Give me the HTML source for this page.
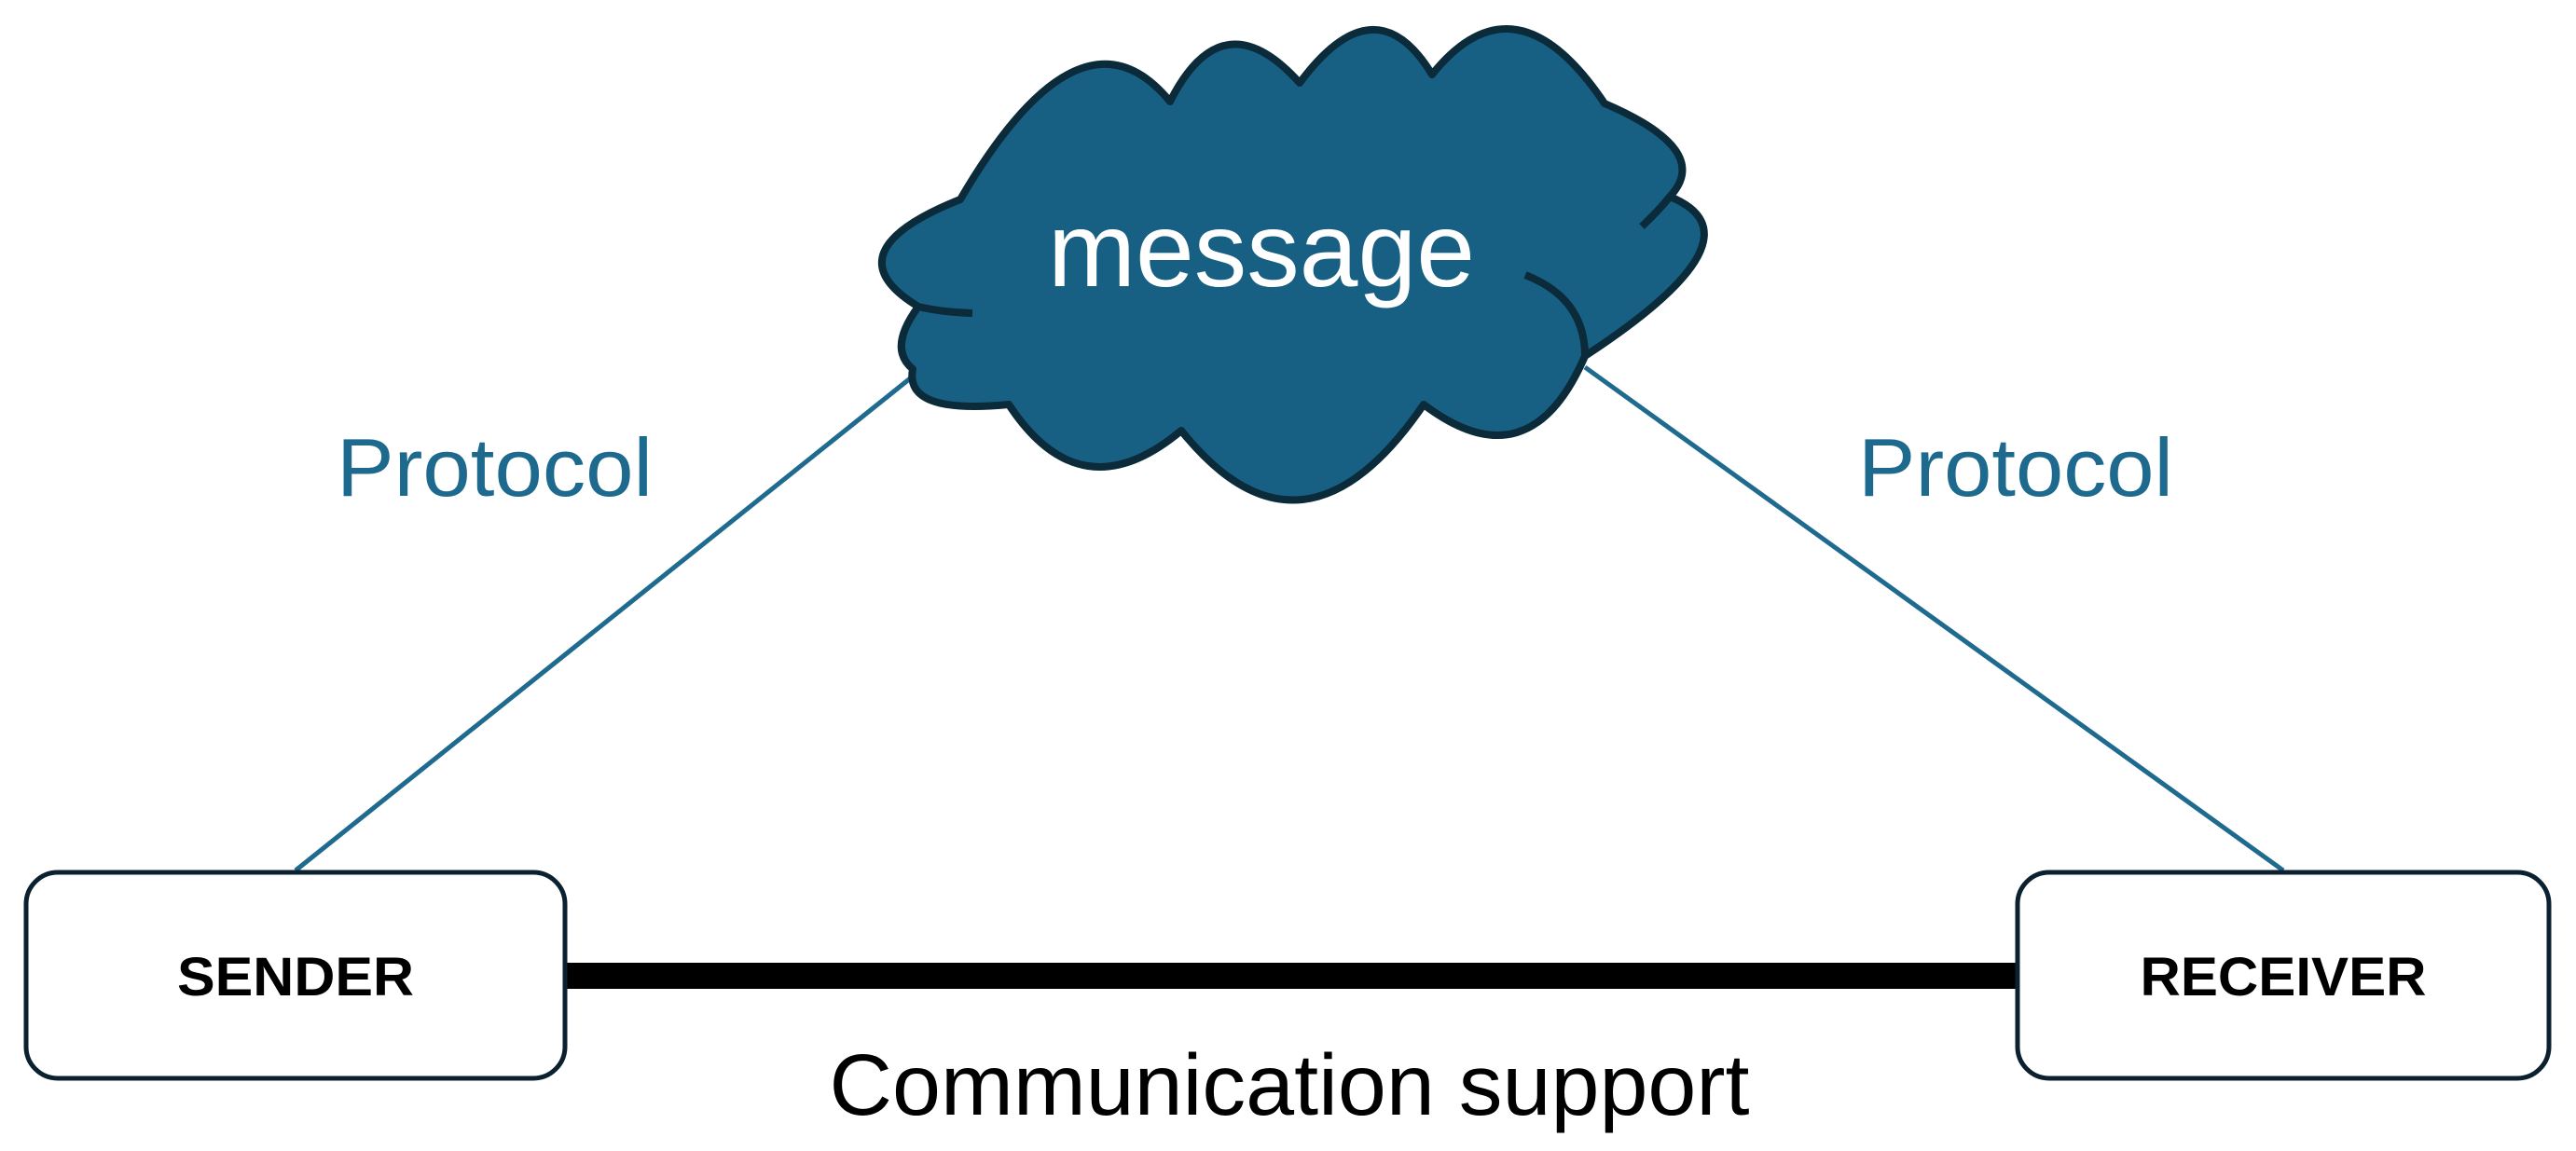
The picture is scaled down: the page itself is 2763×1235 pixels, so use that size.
<!DOCTYPE html>
<html><head><meta charset="utf-8"><style>
html,body{margin:0;padding:0;background:#fff;}
svg{display:block;}
text{font-family:"Liberation Sans",Arial,sans-serif;}
</style></head><body>
<svg width="2763" height="1235" viewBox="0 0 2763 1235" xmlns="http://www.w3.org/2000/svg">
<line x1="980" y1="403" x2="317" y2="934" stroke="#1f6a8f" stroke-width="5"/>
<line x1="1700" y1="394" x2="2449" y2="934" stroke="#1f6a8f" stroke-width="5"/>
<path d="M1030,214 Q1159.5,-7.5 1255,109 Q1311.5,-3 1394,89 Q1475,-20.5 1536,80 Q1625.5,-31.5 1721,111 Q1838,161 1791,211 Q1896.5,253.5 1700,382 Q1640.5,520 1527,434 Q1397,624 1267,462 Q1159.5,552 1082,434 Q969.5,445 979,396 Q952,373.5 985,329 Q888.5,270.5 1030,214 Z" fill="#186083" stroke="#0b2a3a" stroke-width="8" stroke-linejoin="round"/>
<path d="M1636,295 Q1700,320 1700,382" fill="none" stroke="#0b2a3a" stroke-width="8"/>
<path d="M1761,243 Q1780,225 1791,211" fill="none" stroke="#0b2a3a" stroke-width="8"/>
<path d="M985,329 Q1010,335 1043,336" fill="none" stroke="#0b2a3a" stroke-width="8"/>
<text x="1353" y="307" font-size="113" fill="#fff" text-anchor="middle" textLength="458" lengthAdjust="spacingAndGlyphs">message</text>
<text x="361" y="532" font-size="88" fill="#1e6a8e" textLength="339" lengthAdjust="spacingAndGlyphs">Protocol</text>
<text x="1993" y="532" font-size="88" fill="#1e6a8e" textLength="338" lengthAdjust="spacingAndGlyphs">Protocol</text>
<rect x="606" y="1033" width="1558" height="28" fill="#000"/>
<rect x="28" y="936" width="578" height="221" rx="34" fill="#fff" stroke="#0b2130" stroke-width="5"/>
<rect x="2164" y="936" width="570" height="221" rx="34" fill="#fff" stroke="#0b2130" stroke-width="5"/>
<text x="317" y="1068" font-size="58" font-weight="bold" fill="#000" text-anchor="middle" textLength="254" lengthAdjust="spacingAndGlyphs">SENDER</text>
<text x="2449" y="1068" font-size="58" font-weight="bold" fill="#000" text-anchor="middle" textLength="307" lengthAdjust="spacingAndGlyphs">RECEIVER</text>
<text x="1383" y="1196" font-size="93" fill="#000" text-anchor="middle" textLength="987" lengthAdjust="spacingAndGlyphs">Communication support</text>
</svg>
</body></html>
